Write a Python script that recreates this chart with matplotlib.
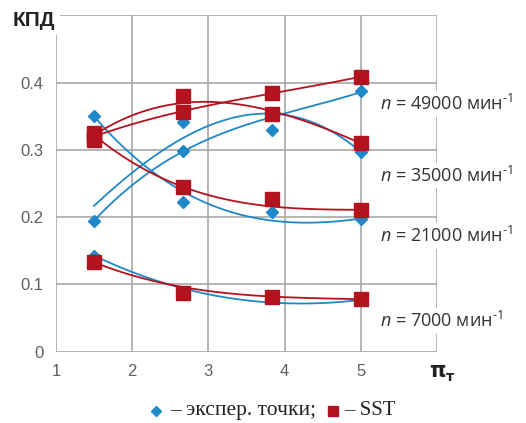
import numpy as np
import matplotlib
matplotlib.use("Agg")
import matplotlib.pyplot as plt
from matplotlib.lines import Line2D

# ---- data ----
x_pi = [1.5, 2.67, 3.83, 5.0]
series_names = ["49000", "35000", "21000", "7000"]

# experimental points (blue diamonds)
exp_49000 = [0.195, 0.298, 0.352, 0.388]
exp_35000 = [0.320, 0.342, 0.330, 0.297]
exp_21000 = [0.350, 0.222, 0.208, 0.198]
exp_7000 = [0.143, 0.088, 0.080, 0.077]

# SST points (red squares)
sst_49000 = [0.315, 0.357, 0.384, 0.409]
sst_35000 = [0.325, 0.381, 0.353, 0.310]
sst_21000 = [0.320, 0.245, 0.227, 0.211]
sst_7000 = [0.133, 0.088, 0.082, 0.078]

# trend lines read at the same abscissae
trend_exp_49000 = [0.195, 0.298, 0.349, 0.386]
trend_exp_35000 = [0.217, 0.318, 0.354, 0.297]
trend_exp_21000 = [0.350, 0.238, 0.195, 0.198]
trend_exp_7000 = [0.143, 0.094, 0.073, 0.077]
trend_sst_49000 = [0.320, 0.358, 0.384, 0.409]
trend_sst_35000 = [0.322, 0.370, 0.358, 0.310]
trend_sst_21000 = [0.322, 0.245, 0.216, 0.211]
trend_sst_7000 = [0.133, 0.096, 0.082, 0.078]

x_ticks = [1, 2, 3, 4, 5, 6]
x_tick_labels = ["1", "2", "3", "4", "5", ""]
y_ticks = [0, 0.1, 0.2, 0.3, 0.4, 0.5]
y_tick_labels = ["0", "0.1", "0.2", "0.3", "0.4", ""]
label_y = [0.368, 0.262, 0.172, 0.046]

BLUE = "#1f88c8"
RED = "#b3121f"
GRID = "#a8a8a8"
TICK = "#5f5f5f"

plt.rcParams["mathtext.fontset"] = "custom"
plt.rcParams["mathtext.rm"] = "Open Sans"
plt.rcParams["mathtext.it"] = "Open Sans:italic"

fig = plt.figure(figsize=(5.26, 4.23), dpi=100)
ax = fig.add_axes([56 / 526, (423 - 351.7) / 423, (437 - 56) / 526, (351.7 - 15.5) / 423])
ax.set_xlim(1, 6)
ax.set_ylim(0, 0.5)
for s in ax.spines.values():
    s.set_visible(False)
ax.set_xticks(x_ticks)
ax.set_xticklabels(x_tick_labels)
ax.set_yticks(y_ticks)
ax.set_yticklabels(y_tick_labels)
ax.tick_params(length=0, colors=TICK, labelsize=12, pad=9)
for lab in ax.get_xticklabels() + ax.get_yticklabels():
    lab.set_fontfamily("Liberation Sans")
ax.grid(True, color=GRID, linewidth=1.2, zorder=0)
ax.set_axisbelow(True)

xs = np.linspace(x_pi[0], x_pi[-1], 200)
exp_sets = [exp_49000, exp_35000, exp_21000, exp_7000]
sst_sets = [sst_49000, sst_35000, sst_21000, sst_7000]
tr_exp = [trend_exp_49000, trend_exp_35000, trend_exp_21000, trend_exp_7000]
tr_sst = [trend_sst_49000, trend_sst_35000, trend_sst_21000, trend_sst_7000]

for t in tr_exp:
    c = np.polyfit(x_pi, t, 3)
    ax.plot(xs, np.polyval(c, xs), color=BLUE, lw=1.3, zorder=3)
for t in tr_sst:
    c = np.polyfit(x_pi, t, 3)
    ax.plot(xs, np.polyval(c, xs), color=RED, lw=1.3, zorder=3)
for e in exp_sets:
    ax.plot(x_pi, e, linestyle="none", marker="D", ms=6.2, color=BLUE, zorder=4)
for s in sst_sets:
    ax.plot(x_pi, s, linestyle="none", marker="s", ms=10.5, color=RED, zorder=5)

for name, yy in zip(series_names, label_y):
    ax.text(1.0 + (380 - 56) / 76.2, yy, r"$\it{n}$ = " + name + r" мин$^{\text{-1}}$",
            fontsize=13, family="Open Sans", color="#333333", ha="left", va="center",
            bbox=dict(facecolor="white", edgecolor="none", pad=2), zorder=6, clip_on=False)

# axis titles
fig.text(13 / 526, 1 - 21 / 423, "КПД", fontsize=15, fontweight="bold", family="Liberation Sans",
         color="#222222", ha="left", va="center",
         bbox=dict(facecolor="white", edgecolor="none", pad=3), zorder=10)
fig.text(437 / 526, 1 - 371 / 423, "π", fontsize=15, fontweight="bold", family="DejaVu Sans",
         color="#222222", ha="center", va="center")
fig.text(446 / 526, 1 - 377 / 423, "т", fontsize=10, fontweight="bold", family="DejaVu Sans",
         color="#222222", ha="left", va="center")

# bottom legend
fig.add_artist(Line2D([156 / 526], [1 - 411 / 423], marker="D", ms=5, color=BLUE, linestyle="none"))
fig.text(170 / 526, 1 - 410 / 423, "– экспер. точки;", fontsize=15.5, family="Liberation Serif",
         color="#222222", ha="left", va="center")
fig.add_artist(Line2D([333 / 526], [1 - 411 / 423], marker="s", ms=7, color=RED, linestyle="none"))
fig.text(344 / 526, 1 - 410 / 423, "– SST", fontsize=15, family="Liberation Serif",
         color="#222222", ha="left", va="center")

fig.savefig("out.png", dpi=100)
